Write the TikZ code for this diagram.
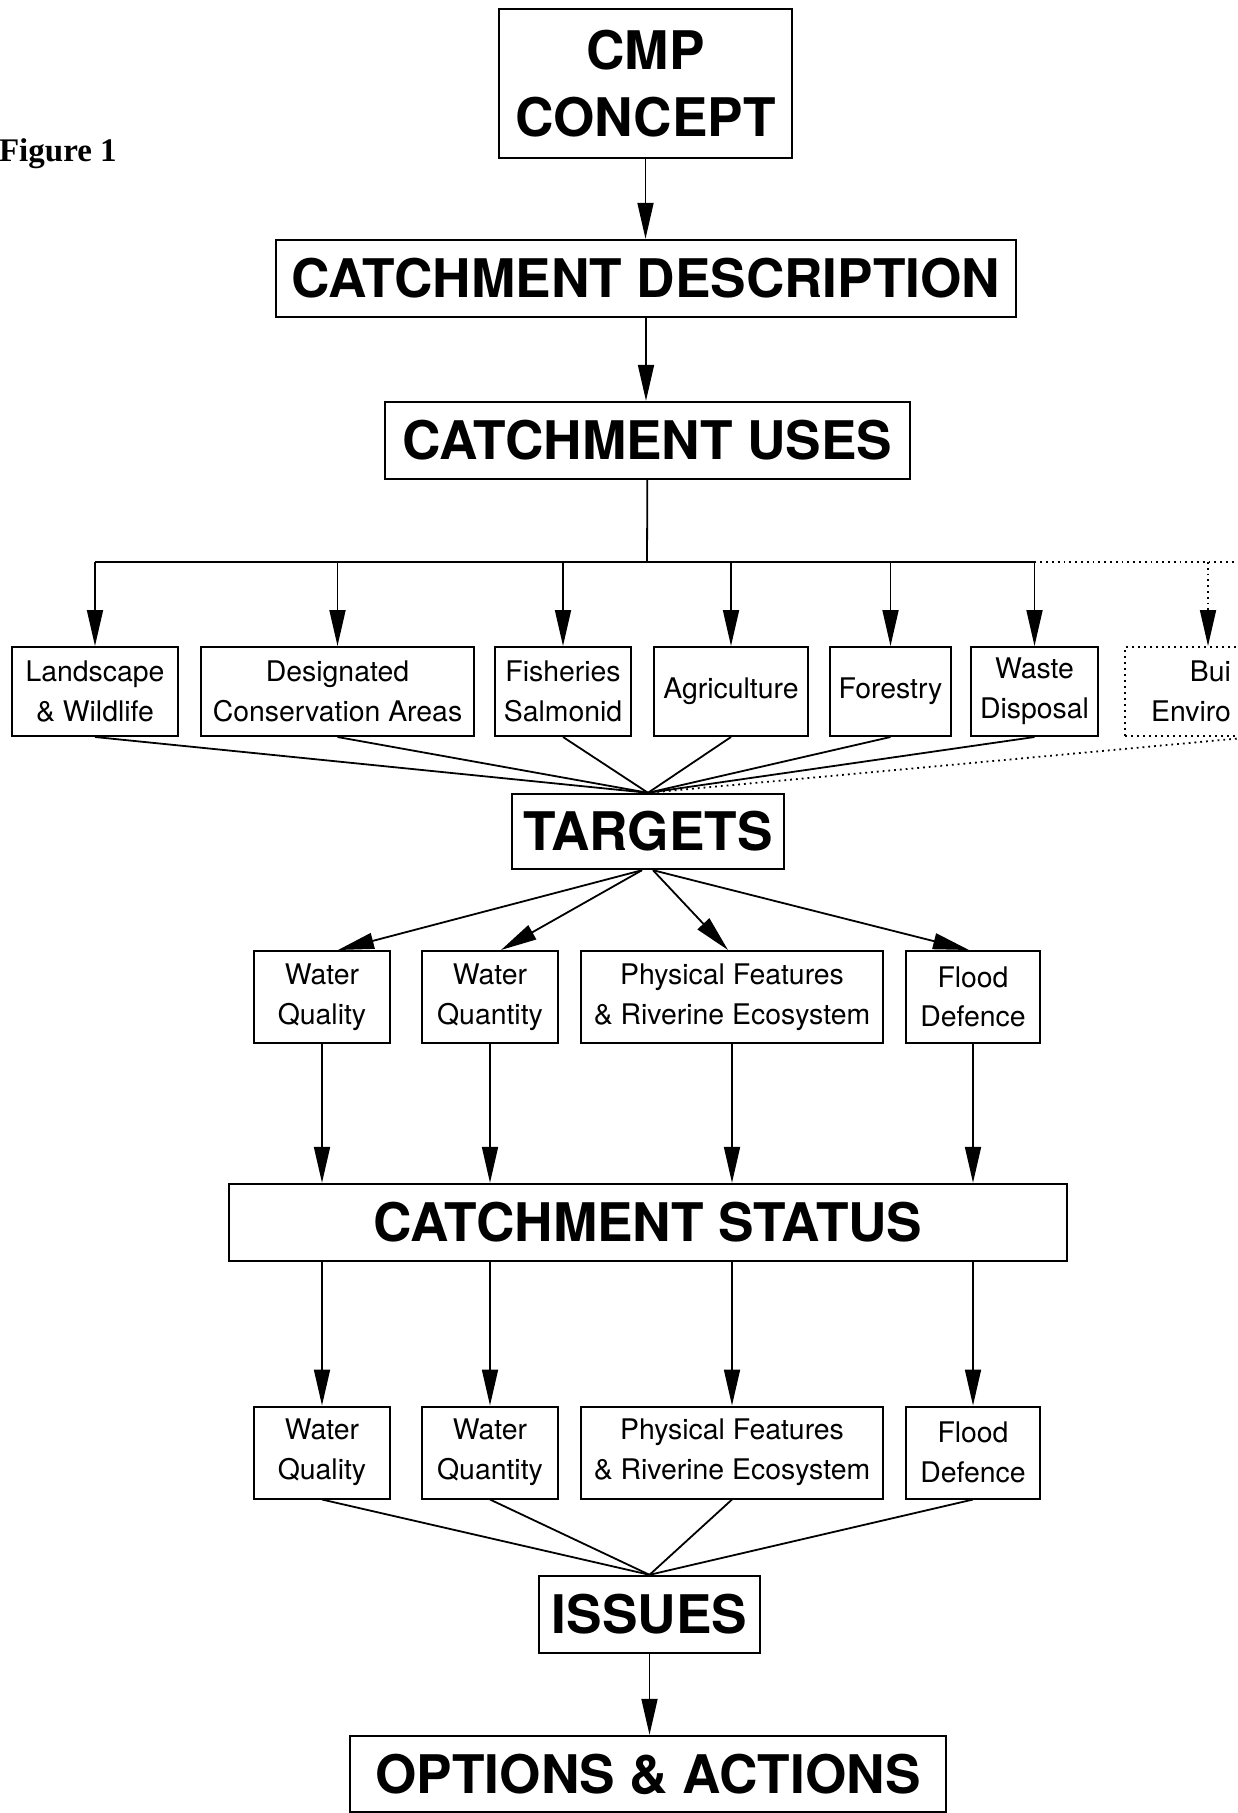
\documentclass[tikz,border=0pt]{standalone}
\usepackage{fontspec}
\setmainfont{TeX Gyre Heros}
\newfontfamily\figfont{Liberation Serif}
\usetikzlibrary{arrows.meta}

\begin{document}
\begin{tikzpicture}[x=0.5pt,y=-0.5pt,
    >={Triangle[length=18pt,width=8pt]},
    title/.style={draw, line width=1.2pt, inner sep=0pt, align=center,
      minimum height=38.5pt, font=\bfseries\fontsize{26.6}{33.5}\selectfont},
    usebox/.style={draw, line width=1pt, inner sep=0pt, align=center,
      minimum height=44.5pt, font=\fontsize{14.2}{19.8}\selectfont},
    topic/.style={usebox, minimum height=46pt},
    link/.style={line width=0.9pt}
    ]
  \path[use as bounding box, clip] (0,0) rectangle (1237,1813);

  \node[anchor=base west, font=\figfont\bfseries\fontsize{16.5}{19}\selectfont] (fig) at (-8,162) {Figure 1};

  \node[title, minimum width=146.5pt, minimum height=74.5pt] (cmp) at (645.5,83.5) {CMP\\CONCEPT};
  \node[title, minimum width=370pt] (desc) at (646,278.5) {CATCHMENT DESCRIPTION};
  \node[title, minimum width=262.5pt] (uses) at (647.5,440.5) {CATCHMENT USES};

  % catchment uses
  \node[usebox, minimum width=83pt] (land) at (95,691.5) {Landscape\\\& Wildlife};
  \node[usebox, minimum width=136.5pt] (desig) at (337.5,691.5) {Designated\\Conservation Areas};
  \node[usebox, minimum width=68pt] (fish) at (563,691.5) {Fisheries\\Salmonid};
  \node[usebox, minimum width=77pt] (agri) at (731,691.5) {Agriculture};
  \node[usebox, minimum width=60.5pt] (forest) at (890.5,691.5) {Forestry};
  \node[usebox, minimum width=63.5pt] (waste) at (1034.5,691.5) {Waste\\Disposal};
  \node[usebox, dotted, anchor=west, align=right, inner xsep=11pt, text width=42pt] (built) at (1124,691.5) {Bui\\Enviro};

  \node[title, minimum width=136pt, minimum height=37.5pt] (targets) at (648,831.5) {TARGETS};

  % targets
  \node[topic, minimum width=68pt] (tq) at (322,997) {Water\\Quality};
  \node[topic, minimum width=68pt] (tn) at (490,997) {Water\\Quantity};
  \node[topic, minimum width=151pt] (tp) at (732,997) {Physical Features\\\& Riverine Ecosystem};
  \node[topic, minimum width=67pt] (tf) at (973,997) {Flood\\Defence};

  \node[title, minimum width=419pt] (status) at (648,1222.5) {CATCHMENT STATUS};

  % status
  \node[topic, minimum width=68pt] (sq) at (322,1452.5) {Water\\Quality};
  \node[topic, minimum width=68pt] (sn) at (490,1452.5) {Water\\Quantity};
  \node[topic, minimum width=151pt] (sp) at (732,1452.5) {Physical Features\\\& Riverine Ecosystem};
  \node[topic, minimum width=67pt] (sf) at (973,1452.5) {Flood\\Defence};

  \node[title, minimum width=110.5pt] (issues) at (649.5,1614.5) {ISSUES};
  \node[title, minimum width=298pt, minimum height=38pt] (options) at (648,1774) {OPTIONS \& ACTIONS};

  \draw[link,->] (cmp) -- (cmp |- desc.north);
  \draw[link,->] (desc) -- (desc |- uses.north);

  \coordinate (split) at (647,562);
  \coordinate (bsplit) at (1208,562);
  \coordinate (edge) at (1240,562);
  \draw[link] (uses) -- (split);
  \draw[link] (land.north |- split) -- (waste.north |- split);
  \draw[link,dotted] (waste.north |- split) -- (edge);
  \foreach \n in {land,desig,fish,agri,forest,waste}
    \draw[link,->] (\n.north |- split) -- (\n);
  \draw[link,dotted,->] (bsplit) -- (bsplit |- built.north);

  \foreach \n in {land,desig,fish,agri,forest,waste}
    \draw[link] (\n.south) -- (targets.north);
  \draw[link,dotted] (built.south east) -- (targets.north);

  \draw[link,->] ([xshift=-3pt]targets.south) -- ([xshift=8pt]tq.north);
  \draw[link,->] ([xshift=-3pt]targets.south) -- ([xshift=5.5pt]tn.north);
  \draw[link,->] ([xshift=2.5pt]targets.south) -- ([xshift=-2pt]tp.north);
  \draw[link,->] ([xshift=2.5pt]targets.south) -- ([xshift=-2pt]tf.north);

  \foreach \n/\m in {tq/sq,tn/sn,tp/sp,tf/sf} {
    \draw[link,->] (\n) -- (\n |- status.north);
    \draw[link,->] (\n |- status.south) -- (\m);
    \draw[link] (\m.south) -- (issues.north);
  }
  \draw[link,->] (issues) -- (issues |- options.north);
\end{tikzpicture}
\end{document}
